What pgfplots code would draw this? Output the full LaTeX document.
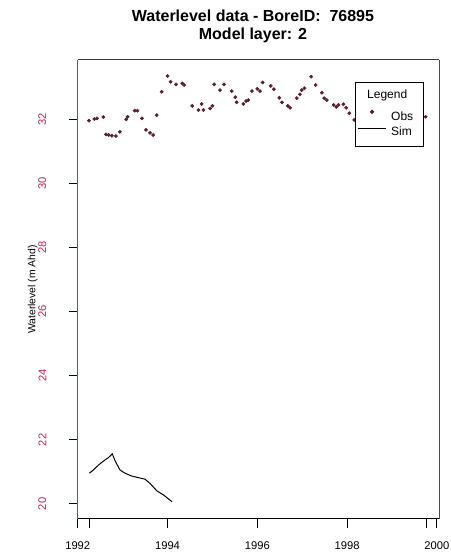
\documentclass[border=0pt]{standalone}
\usepackage{pgfplots}
\pgfplotsset{compat=1.18}
\usepackage{fontspec}
\setmainfont{Liberation Sans}
\usetikzlibrary{calc}
\definecolor{leftax}{RGB}{200,40,80}
\definecolor{rightax}{RGB}{70,60,170}
\definecolor{topax}{RGB}{60,60,60}
\definecolor{obscol}{RGB}{90,30,50}
\definecolor{ytl}{RGB}{175,45,85}
\pgfplotsset{
  titleleg/.style={legend image code/.code={\path[draw=none,fill=none] (0pt,-9.5pt) rectangle (0pt,7.3pt);}},
  obsleg/.style={legend image code/.code={\path[draw=none,fill=none] (0pt,-3.5pt) rectangle (0pt,7pt);\draw[##1, mark repeat=2, mark phase=2] plot coordinates {(0pt,3.8pt) (10.5pt,3.8pt) (21pt,3.8pt)};}},
  simleg/.style={legend image code/.code={\path[draw=none,fill=none] (0pt,-8.5pt) rectangle (0pt,7pt);\draw[##1] (0pt,3pt) -- (21pt,3pt);}},
}
\begin{document}
\begin{tikzpicture}
\begin{axis}[
  name=ax, at={(0,0)}, anchor=south west,
  scale only axis, width=271pt, height=344.25pt,
  xmin=1992, xmax=2000.05, ymin=19.53, ymax=33.84,
  axis line style={draw=none},
  clip=false,
  xtick={1992,1994,1996,1998,2000},
  xticklabels={1992,1994,1996,1998,2000},
  extra x ticks={1992.27,1999.76},
  extra x tick labels={},
  ytick={20,22,24,26,28,30,32},
  yticklabels={20,22,24,26,28,30,32},
  tick align=outside, xtick pos=bottom, ytick pos=left,
  major tick length=6.5pt,
  tick style={black, line width=0.75pt},
  xticklabel shift=7pt,
  yticklabel shift=13.5pt,
  xticklabel style={font=\fontsize{8.4}{10}\selectfont, text=black},
  yticklabel style={rotate=90, anchor=south, font=\fontsize{8.4}{10}\selectfont, text=ytl},
  every axis y label/.style={at={(axis description cs:-0.125,0.5)}, rotate=90, anchor=center, font=\fontsize{7.8}{9}\selectfont},
  ylabel={Waterlevel (m Ahd)},
  title={Waterlevel data - BoreID:\ \ 76895\\Model layer: 2},
  title style={at={(axis description cs:0.485,1)}, anchor=south, yshift=6.5pt, align=center, inner sep=0pt, font=\bfseries\fontsize{12}{13.5}\selectfont},
  legend style={at={(0.7675,0.952)}, anchor=north west, draw=black, line width=0.75pt, fill=white, font=\fontsize{9}{10}\selectfont, inner xsep=1.5pt, inner ysep=2pt, nodes={inner ysep=0.5pt}, column sep=1.5pt},
  legend cell align=left,
]
\addlegendimage{titleleg}
\addlegendentry{\hspace*{-18pt}Legend}
\addplot[only marks, mark=*, mark size=1.2pt, color=obscol, obsleg] coordinates {
(1992.25,31.95) (1992.37,32.00) (1992.43,32.02) (1992.57,32.06) (1992.63,31.52)
(1992.69,31.50) (1992.76,31.48) (1992.85,31.47) (1992.94,31.60) (1993.08,31.99)
(1993.11,32.07) (1993.27,32.26) (1993.33,32.26) (1993.43,32.02) (1993.52,31.66)
(1993.61,31.57) (1993.68,31.50) (1993.76,32.12) (1993.87,32.85) (1994.00,33.34)
(1994.07,33.16) (1994.19,33.08) (1994.33,33.11) (1994.37,33.06) (1994.55,32.41)
(1994.69,32.28) (1994.76,32.47) (1994.80,32.28) (1994.95,32.33) (1995.00,32.41)
(1995.04,33.08) (1995.17,32.90) (1995.26,33.08) (1995.43,32.87) (1995.51,32.68)
(1995.54,32.52) (1995.69,32.47) (1995.75,32.56) (1995.80,32.59) (1995.88,32.87)
(1996.00,32.94) (1996.06,32.87) (1996.12,33.14) (1996.30,33.03) (1996.37,32.93)
(1996.49,32.66) (1996.55,32.52) (1996.68,32.41) (1996.73,32.35) (1996.88,32.65)
(1996.95,32.77) (1996.99,32.90) (1997.05,32.96) (1997.20,33.32) (1997.30,33.06)
(1997.44,32.82) (1997.49,32.65) (1997.55,32.59) (1997.70,32.44) (1997.76,32.38)
(1997.81,32.44) (1997.92,32.46) (1997.98,32.35) (1998.05,32.18) (1998.16,31.97)
(1998.35,31.90) (1998.60,32.00) (1998.90,32.10) (1999.20,32.05) (1999.50,32.00)
(1999.75,32.07)
};
\addlegendentry{Obs\hspace*{4pt}}
\addplot[black, line width=0.75pt, simleg] coordinates {
(1992.26,20.96) (1992.35,21.06) (1992.46,21.21) (1992.53,21.29) (1992.61,21.37)
(1992.68,21.44) (1992.77,21.56) (1992.83,21.35) (1992.94,21.06) (1993.05,20.96)
(1993.20,20.87) (1993.35,20.82) (1993.50,20.77) (1993.61,20.64) (1993.76,20.41)
(1993.91,20.28) (1994.10,20.07)
};
\addlegendentry{Sim\hspace*{4pt}}
\draw[leftax, line width=0.75pt] (rel axis cs:0,0) -- (rel axis cs:0,1);
\draw[rightax, line width=0.75pt] (rel axis cs:1,0) -- (rel axis cs:1,1);
\draw[topax, line width=0.75pt] (rel axis cs:0,1) -- (rel axis cs:1,1);
\draw[black, line width=0.75pt] (rel axis cs:0,0) -- (rel axis cs:1,0);
\end{axis}
\pgfresetboundingbox
\path[use as bounding box] ($(ax.south west)+(-58.3pt,-27pt)$) rectangle ($(ax.north east)+(8.25pt,45pt)$);
\end{tikzpicture}
\end{document}
